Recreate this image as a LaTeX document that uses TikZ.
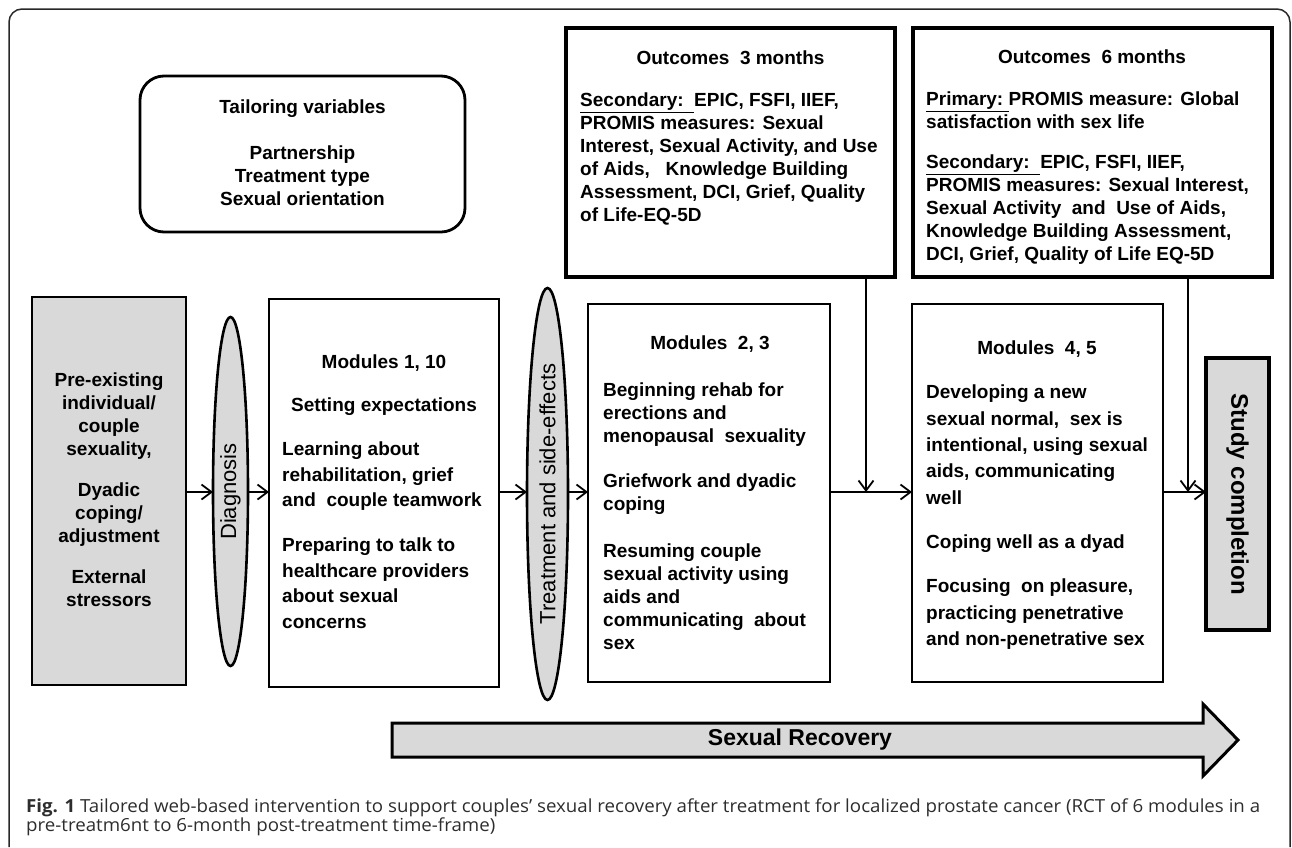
\documentclass[tikz,border=0pt]{standalone}
\usepackage{fontspec}
\usepackage{graphicx}
\setmainfont{Liberation Sans}
\newfontfamily\capfont{Open Sans}
\usetikzlibrary{arrows.meta,shapes.geometric}
\definecolor{fillg}{RGB}{217,217,217}
\definecolor{capc}{RGB}{45,45,45}
\definecolor{framec}{RGB}{40,40,40}
\newlength{\capw}
\newcommand\captxtA{\textbf{Fig. 1} Tailored web-based intervention to support couples’ sexual recovery after treatment for localized prostate cancer (RCT of 6 modules in a}
\newcommand\captxtB{pre-treatm6nt to 6-month post-treatment time-frame)}
\begin{document}
\settowidth{\capw}{\capfont\fontsize{18}{20}\selectfont\captxtA}%
\pgfmathsetmacro\capsx{1234/\capw}%
\begin{tikzpicture}[x=1pt,y=-1pt,
  box/.style={draw, line width=2.8, inner sep=0, outer sep=0},
  lens/.style={draw, ellipse, line width=2.6, fill=fillg, inner sep=0, outer sep=0, font=\fontsize{22}{26}\selectfont},
  t/.style={font=\fontsize{19}{23}\selectfont\bfseries, inner sep=0, align=left, anchor=north west},
  tc/.style={font=\fontsize{19}{23}\selectfont\bfseries, inner sep=0, align=center, anchor=north},
  arr/.style={line width=1.8, -{Straight Barb[length=10pt,width=15pt]}},
  ln/.style={line width=1.8}]
\useasboundingbox (0,0) rectangle (1292,847);
% outer frame
\draw[framec, line width=1.5, rounded corners=13] (9,847) -- (9,9) -- (1290,9) -- (1290,847);

% boxes
\node[box, rounded corners=24, minimum width=325, minimum height=156] (tail) at (302.5,154) {};
\node[box, line width=3.2, minimum width=329, minimum height=249] (out3) at (730.5,152.5) {};
\node[box, line width=3.2, minimum width=359, minimum height=249] (out6) at (1092.5,152.5) {};
\node[box, fill=fillg, minimum width=154, minimum height=388] (gray) at (109,491) {};
\node[lens, minimum width=35, minimum height=349] (diag) at (230.5,491.5) {\rotatebox{90}{Diagnosis}};
\node[box, minimum width=230, minimum height=388] (mod1) at (384,493) {};
\node[lens, minimum width=41, minimum height=412] (treat) at (547.5,494) {\rotatebox{90}{Treatment and side-effects}};
\node[box, minimum width=242, minimum height=378] (mod23) at (709,493) {};
\node[box, minimum width=251, minimum height=378] (mod45) at (1037.5,493) {};
\node[box, line width=3.6, fill=fillg, minimum width=63, minimum height=272, font=\fontsize{24}{28}\selectfont\bfseries] (study) at (1237.5,494) {\rotatebox{-90}{Study completion}};

% texts
\node[tc] (tailtxt) at (302.5,100) {Tailoring variables\\[23pt]Partnership\\Treatment type\\Sexual orientation};
\node[tc] (out3title) at (730.5,51) {Outcomes~~3 months};
\node[t] (out3txt) at (580,93) {\underline{Secondary:~~}EPIC, FSFI, IIEF,\\PROMIS measures: Sexual\\Interest, Sexual Activity, and Use\\of Aids,~~ Knowledge Building\\Assessment, DCI, Grief, Quality\\of Life-EQ-5D};
\node[tc] (out6title) at (1092,50) {Outcomes~~6 months};
\node[t] (out6txt) at (926,92) {\underline{Primary:~}PROMIS measure: Global\\satisfaction with sex life\\[17pt]\underline{Secondary:~~}EPIC, FSFI, IIEF,\\PROMIS measures: Sexual Interest,\\Sexual Activity~ and~ Use of Aids,\\Knowledge Building Assessment,\\DCI, Grief, Quality of Life EQ-5D};
\node[tc] (graytxt) at (109,373) {Pre-existing\\individual/\\couple\\sexuality,\\[18pt]Dyadic\\coping/\\adjustment\\[18pt]External\\stressors};
\node[tc] (mod1title) at (384,355) {Modules 1, 10\\[20pt]Setting expectations};
\node[t, font=\fontsize{19}{25.5}\selectfont\bfseries] (mod1txt) at (282,442) {Learning about\\rehabilitation, grief\\and~~couple teamwork\\[19.5pt]Preparing to talk to\\healthcare providers\\about sexual\\concerns};
\node[tc] (mod23title) at (710,336) {Modules~~2, 3};
\node[t] (mod23txt) at (603,383) {Beginning rehab for\\erections and\\menopausal~~sexuality\\[22pt]Griefwork and dyadic\\coping\\[24pt]Resuming couple\\sexual activity using\\aids and\\communicating~ about\\sex};
\node[tc] (mod45title) at (1037,341) {Modules~~4, 5};
\node[t, font=\fontsize{19}{26.3}\selectfont\bfseries] (mod45txt) at (926,385) {Developing a new\\sexual normal,~~sex is\\intentional, using sexual\\aids, communicating\\well\\[18pt]Coping well as a dyad\\[18pt]Focusing~~on pleasure,\\practicing penetrative\\and non-penetrative sex};

% connectors
\coordinate (ym) at (0,492);
\coordinate (j3) at (866,492);
\coordinate (j6) at (1188,492);
\draw[arr] (gray.east |- ym) -- (diag.west |- ym);
\draw[arr] (diag.east |- ym) -- (mod1.west |- ym);
\draw[arr] (mod1.east |- ym) -- (treat.west |- ym);
\draw[arr] (treat.east |- ym) -- (mod23.west |- ym);
\draw[arr] (mod23.east |- ym) -- (mod45.west |- ym);
\draw[arr] (mod45.east |- ym) -- (study.west |- ym);
\draw[arr] (out3.south -| j3) -- (j3);
\draw[arr] (out6.south -| j6) -- (j6);

% big arrow
\draw[line width=3, fill=fillg, line join=miter] (392,723) -- (1203,723) -- (1203,704) -- (1238,740) -- (1203,776) -- (1203,757) -- (392,757) -- cycle;
\node[font=\fontsize{23}{27}\selectfont\bfseries, inner sep=0] (recov) at (800,740) {Sexual Recovery};

% caption
\node[anchor=base west, inner sep=0, text=capc, font=\capfont\fontsize{18}{20}\selectfont] (cap1) at (26,812) {\scalebox{\capsx}[1]{\captxtA}};
\node[anchor=base west, inner sep=0, text=capc, font=\capfont\fontsize{18}{20}\selectfont] (cap2) at (26,831) {\scalebox{\capsx}[1]{\captxtB}};
\end{tikzpicture}
\end{document}
